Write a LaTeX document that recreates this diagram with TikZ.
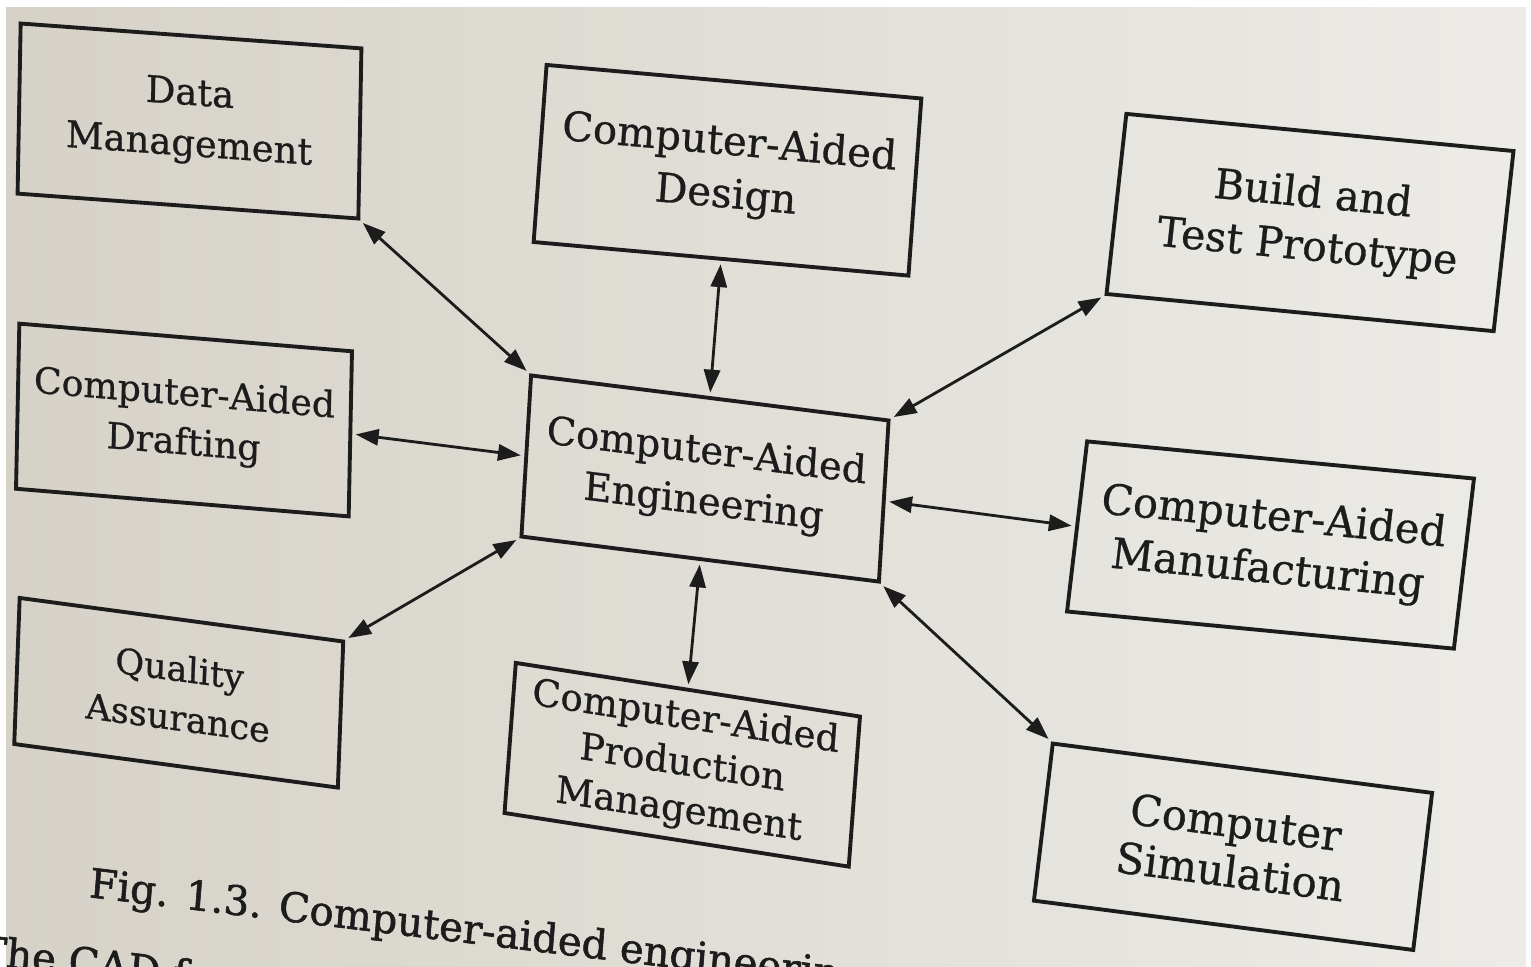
\documentclass[tikz,border=0pt]{standalone}
\usepackage{fontspec}
\setmainfont{DejaVu Serif}[FakeBold=0.7]
\newfontfamily\capfont{DejaVu Serif}[FakeBold=1.4]
\usetikzlibrary{arrows.meta}
\definecolor{paperL}{HTML}{D6D2C8}
\definecolor{paperR}{HTML}{ECEBE7}
\definecolor{ink}{HTML}{1C1C1C}
\tikzset{
  block/.style={draw=ink, line width=1.1pt, rectangle, inner sep=0pt, align=center,
    text=ink, font=\fontsize{11}{14.5}\selectfont},
  link/.style={draw=ink, line width=0.8pt,
    {Triangle[length=6.5pt,width=4.6pt]}-{Triangle[length=6.5pt,width=4.6pt]},
    shorten <=1pt, shorten >=1pt},
  captext/.style={text=ink, inner sep=0pt, anchor=base west,
    font=\capfont\fontsize{11.5}{14}\selectfont, xslant=0.08, yslant=-0.12}
}
\begin{document}
\begin{tikzpicture}[x=0.01cm, y=-0.01cm]
\useasboundingbox (0,0) rectangle (1531,966);
\clip (0,0) rectangle (1531,966);
% page
\fill[white] (0,0) rectangle (1531,966);
\shade[left color=paperL, right color=paperR] (6,7) rectangle (1526,966);

% boxes
\node[block, minimum width=3.41cm, minimum height=1.70cm, xslant=0.018, yslant=-0.073,
  font=\fontsize{10.5}{14.5}\selectfont]
  (dm) at (189.5,121) {Data\\Management};
\node[block, minimum width=3.77cm, minimum height=1.77cm, xslant=0.073, yslant=-0.089,
  font=\fontsize{11.5}{15}\selectfont]
  (cad) at (727.5,170.25) {Computer-Aided\\Design};
\node[block, minimum width=3.91cm, minimum height=1.80cm, xslant=0.11, yslant=-0.095,
  font=\fontsize{11.7}{15}\selectfont]
  (bt) at (1310,222.5) {Build and\\Test Prototype};
\node[block, minimum width=3.33cm, minimum height=1.65cm, xslant=0.02, yslant=-0.083,
  font=\fontsize{10.3}{14}\selectfont]
  (dr) at (184,420) {Computer-Aided\\Drafting};
\node[block, minimum width=3.60cm, minimum height=1.61cm, xslant=0.06, yslant=-0.125]
  (cae) at (705,478.5) {Computer-Aided\\Engineering};
\node[block, minimum width=3.91cm, minimum height=1.70cm, xslant=0.118, yslant=-0.095,
  font=\fontsize{11.9}{15}\selectfont]
  (cam) at (1270.5,545) {Computer-Aided\\Manufacturing};
\node[block, minimum width=3.25cm, minimum height=1.46cm, xslant=0.037, yslant=-0.134,
  font=\fontsize{10}{14}\selectfont]
  (qa) at (178.75,692.75) {Quality\\Assurance};
\node[block, minimum width=3.48cm, minimum height=1.50cm, xslant=0.075, yslant=-0.154,
  font=\fontsize{10.6}{13.2}\selectfont]
  (capm) at (682.25,764.75) {Computer-Aided\\Production\\Management};
\node[block, minimum width=3.85cm, minimum height=1.57cm, xslant=0.12, yslant=-0.128,
  font=\fontsize{12}{14}\selectfont]
  (sim) at (1233,846.75) {Computer\\Simulation};

% connectors
\draw[link] (dm.south east) -- (cae.north west);
\draw[link] (cad.south) -- (cae.north);
\draw[link] (bt.south west) -- (cae.north east);
\draw[link] (dr.east) -- (cae.west);
\draw[link] (cae.east) -- (cam.west);
\draw[link] (qa.north east) -- (cae.south west);
\draw[link] (cae.south) -- (capm.north);
\draw[link] (cae.south east) -- (sim.north west);

% caption and the start of the following line
\node[captext] (cap) at (88,897) {Fig. 1.3. Computer-aided engineering};
\node[captext] (body) at (-22,964) {The CAD f};
\end{tikzpicture}
\end{document}
